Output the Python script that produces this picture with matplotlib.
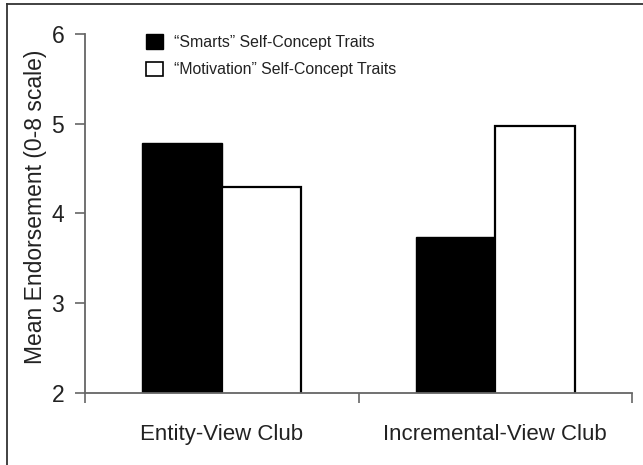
import matplotlib
matplotlib.use("Agg")
import matplotlib.pyplot as plt
from matplotlib.patches import Patch
from matplotlib.lines import Line2D
import numpy as np

plt.rcParams['font.family'] = ['Liberation Sans', 'DejaVu Sans']

categories = ["Entity-View Club", "Incremental-View Club"]
series_names = ['\u201cSmarts\u201d Self-Concept Traits', '\u201cMotivation\u201d Self-Concept Traits']
smarts = [4.79, 3.74]
motivation = [4.29, 4.97]
yticks = [2, 3, 4, 5, 6]

W, H = 643, 465
fig = plt.figure(figsize=(W / 100, H / 100), dpi=100)
ax = fig.add_axes([85 / W, (H - 393) / H, (632 - 85) / W, (393 - 34) / H])

x = np.arange(len(categories))
w = 0.29
ax.bar(x - w / 2, smarts, width=w, color='black', edgecolor='black', linewidth=1.0, zorder=2)
ax.bar(x + w / 2, motivation, width=w, color='white', edgecolor='black', linewidth=1.6, zorder=2)

ax.set_xlim(-0.5, 1.5)
ax.set_ylim(2, 6)
ax.set_yticks(yticks)
ax.set_yticklabels([str(t) for t in yticks], fontsize=16.5, color='#222222')
ax.set_xticks([-0.5, 0.5, 1.5])
ax.set_xticklabels([])
ax.set_xticks(x, minor=True)
ax.set_xticklabels(categories, minor=True, fontsize=16, color='#222222')
ax.tick_params(axis='x', which='minor', length=0, pad=22)
ax.tick_params(axis='x', which='major', direction='out', length=7, width=1.2, color='#666666')
ax.tick_params(axis='y', direction='out', length=7, width=1.2, color='#666666', pad=8)

for s in ['top', 'right']:
    ax.spines[s].set_visible(False)
for s in ['left', 'bottom']:
    ax.spines[s].set_color('#666666')
    ax.spines[s].set_linewidth(1.3)

ax.set_ylabel("Mean Endorsement (0-8 scale)", fontsize=16.5, color='#222222', labelpad=3)
ax.yaxis.label.set_y((393 - 207) / 359)

handles = [Patch(facecolor='black', edgecolor='black', linewidth=1.0),
           Patch(facecolor='white', edgecolor='black', linewidth=1.2)]
leg = ax.legend(handles, series_names, frameon=False, loc='upper left',
                bbox_to_anchor=(146 / W, 1 - 34 / H), bbox_transform=fig.transFigure,
                fontsize=11.4, handlelength=1.05, handleheight=1.05, handletextpad=0.75,
                labelspacing=0.75, borderpad=0, borderaxespad=0)
for t in leg.get_texts():
    t.set_color('#222222')

# figure frame (left and top edges)
fig.add_artist(Line2D([7 / W, 7 / W], [0, 1 - 4 / H], transform=fig.transFigure, color='#333333', lw=1.3))
fig.add_artist(Line2D([7 / W, 1], [1 - 4 / H, 1 - 4 / H], transform=fig.transFigure, color='#333333', lw=1.3))

fig.savefig("out.png", dpi=100)
